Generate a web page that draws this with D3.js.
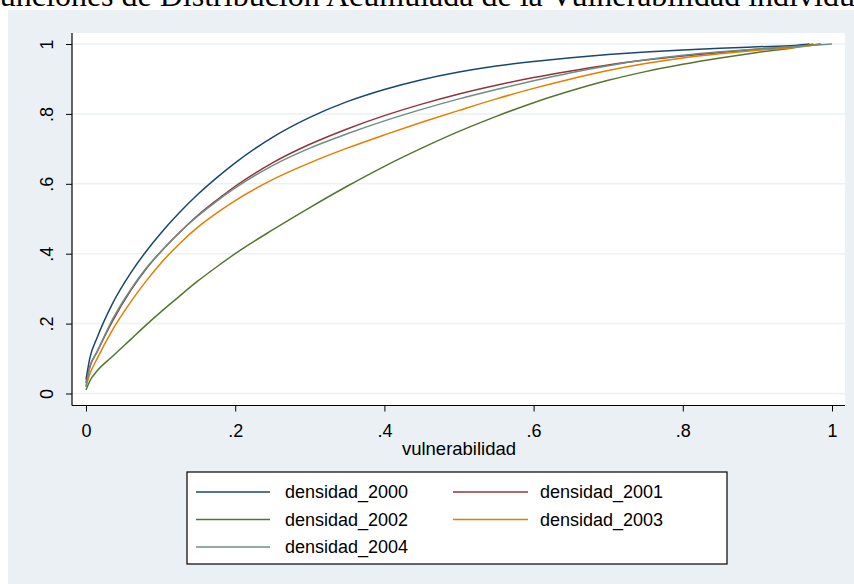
<!DOCTYPE html>
<html>
<head>
<meta charset="utf-8">
<script src="https://cdn.jsdelivr.net/npm/d3@7"></script>
<style>
  body { margin: 0; background: #fff; }
  svg { display: block; }
</style>
</head>
<body>
<div id="container"></div>
<script>
// valores (funcion de distribucion acumulada)
const vuln = [0, 0.005, 0.015, 0.035, 0.06, 0.08, 0.1, 0.125, 0.15, 0.175, 0.2, 0.25, 0.3,
  0.35, 0.4, 0.45, 0.5, 0.55, 0.6, 0.65, 0.7, 0.75, 0.8, 0.85, 0.9, 0.95];
const d2000 = [0.04, 0.1, 0.16, 0.255, 0.345, 0.405, 0.458, 0.517, 0.57, 0.617, 0.66, 0.733, 0.79,
  0.835, 0.87, 0.898, 0.92, 0.937, 0.95, 0.961, 0.97, 0.977, 0.983, 0.988, 0.992, 0.996];
const d2001 = [0.03, 0.075, 0.12, 0.205, 0.295, 0.355, 0.405, 0.46, 0.51, 0.553, 0.593, 0.66, 0.713,
  0.757, 0.795, 0.828, 0.857, 0.882, 0.904, 0.923, 0.94, 0.954, 0.966, 0.976, 0.985, 0.992];
const d2002 = [0.01, 0.035, 0.065, 0.105, 0.155, 0.195, 0.233, 0.278, 0.322, 0.362, 0.4, 0.468, 0.532,
  0.593, 0.65, 0.702, 0.75, 0.793, 0.832, 0.866, 0.896, 0.921, 0.942, 0.96, 0.976, 0.99];
const d2003 = [0.02, 0.055, 0.1, 0.18, 0.262, 0.32, 0.372, 0.428, 0.476, 0.516, 0.552, 0.612, 0.66,
  0.702, 0.74, 0.776, 0.81, 0.843, 0.873, 0.9, 0.924, 0.944, 0.96, 0.972, 0.982, 0.99];
const d2004 = [0.02, 0.075, 0.12, 0.21, 0.298, 0.357, 0.405, 0.46, 0.508, 0.55, 0.588, 0.652, 0.702,
  0.743, 0.78, 0.813, 0.843, 0.87, 0.895, 0.918, 0.938, 0.955, 0.968, 0.978, 0.986, 0.993];
// donde cada curva llega a 1
const finales = [0.97, 0.985, 0.975, 0.985, 1.0];
const nombres = ["densidad_2000", "densidad_2001", "densidad_2002", "densidad_2003", "densidad_2004"];
const colores = ["#1a476f", "#90353b", "#55752f", "#e37e00", "#6e8e84"];
const xTicks = [0, 0.2, 0.4, 0.6, 0.8, 1];
const xTickLabels = ["0", ".2", ".4", ".6", ".8", "1"];
const yTicks = [0, 0.2, 0.4, 0.6, 0.8, 1];
const yTickLabels = ["0", ".2", ".4", ".6", ".8", "1"];

const w = 854, h = 584;
const fuente = "'Liberation Sans', Arial, sans-serif";

const svg = d3.select("#container").append("svg").attr("width", w).attr("height", h);

// titulo (cortado arriba, como en el original)
svg.append("text")
  .attr("x", -18).attr("y", 6)
  .style("font-family", "'Liberation Serif', 'Times New Roman', serif")
  .style("font-size", "32px")
  .attr("fill", "#000")
  .text("Funciones de Distribución Acumulada de la Vulnerabilidad individual");

// fondo del grafico
svg.append("rect").attr("x", 8).attr("y", 10).attr("width", w - 8).attr("height", h - 10)
  .attr("fill", "#eaf0f3");

// region del plot
const pLeft = 72, pRight = 845, pTop = 33, pBottom = 405.5;
svg.append("rect").attr("x", pLeft).attr("y", pTop).attr("width", pRight - pLeft).attr("height", pBottom - pTop)
  .attr("fill", "#fff");

const xScale = d3.scaleLinear().domain([0, 1]).range([86, 832]);
const yScale = d3.scaleLinear().domain([0, 1]).range([393.5, 44]);

// lineas de grilla
svg.append("g").selectAll("line").data(yTicks).enter().append("line")
  .attr("x1", pLeft).attr("x2", pRight)
  .attr("y1", (d) => yScale(d)).attr("y2", (d) => yScale(d))
  .attr("stroke", "#eaf2f3").attr("stroke-width", 1.5);

// curvas
const series = [d2000, d2001, d2002, d2003, d2004];
const line = d3.line()
  .x((d) => xScale(d[0]))
  .y((d) => yScale(d[1]))
  .curve(d3.curveMonotoneX);

series.forEach((s, i) => {
  const pts = vuln.map((v, j) => [v, s[j]]);
  pts.push([finales[i], 1]);
  svg.append("path")
    .datum(pts)
    .attr("fill", "none")
    .attr("stroke", colores[i])
    .attr("stroke-width", 1.5)
    .attr("d", line);
});

// ejes
const xAxis = d3.axisBottom(xScale).tickValues(xTicks)
  .tickFormat((d, i) => xTickLabels[i]).tickSizeInner(6).tickSizeOuter(0);
const gx = svg.append("g").attr("transform", "translate(0," + pBottom + ")").call(xAxis);
gx.select(".domain").remove();
gx.selectAll("line").attr("stroke", "#000");
gx.selectAll("text")
  .attr("y", 31.5).attr("dy", 0)
  .style("font-family", fuente).style("font-size", "18px").attr("fill", "#000");

const yAxis = d3.axisLeft(yScale).tickValues(yTicks)
  .tickFormat((d, i) => yTickLabels[i]).tickSizeInner(6).tickSizeOuter(0);
const gy = svg.append("g").attr("transform", "translate(" + pLeft + ",0)").call(yAxis);
gy.select(".domain").remove();
gy.selectAll("line").attr("stroke", "#000");
gy.selectAll("text")
  .attr("transform", "rotate(-90)")
  .attr("x", 0).attr("y", -19).attr("dy", 0)
  .style("text-anchor", "middle")
  .style("font-family", fuente).style("font-size", "18px").attr("fill", "#000");

svg.append("line").attr("x1", pLeft).attr("x2", pLeft).attr("y1", pTop).attr("y2", pBottom)
  .attr("stroke", "#000").attr("stroke-width", 1.2);
svg.append("line").attr("x1", pLeft).attr("x2", pRight).attr("y1", pBottom).attr("y2", pBottom)
  .attr("stroke", "#000").attr("stroke-width", 1.2);

svg.append("text")
  .attr("x", (xScale(0) + xScale(1)) / 2).attr("y", 455)
  .style("text-anchor", "middle")
  .style("font-family", fuente).style("font-size", "18.5px")
  .text("vulnerabilidad");

// leyenda
const leg = svg.append("g");
leg.append("rect").attr("x", 187).attr("y", 472).attr("width", 540).attr("height", 92)
  .attr("fill", "#fff").attr("stroke", "#000").attr("stroke-width", 1.2);
const filas = [492, 519.5, 547];
const cols = [[196, 270, 285], [453, 528, 540]];
nombres.forEach((n, i) => {
  const c = cols[i % 2], yy = filas[Math.floor(i / 2)];
  leg.append("line").attr("x1", c[0]).attr("x2", c[1]).attr("y1", yy).attr("y2", yy)
    .attr("stroke", colores[i]).attr("stroke-width", 1.5);
  leg.append("text").attr("x", c[2]).attr("y", yy).attr("dy", "0.35em")
    .style("font-family", fuente).style("font-size", "18px")
    .text(n);
});
</script>
</body>
</html>
